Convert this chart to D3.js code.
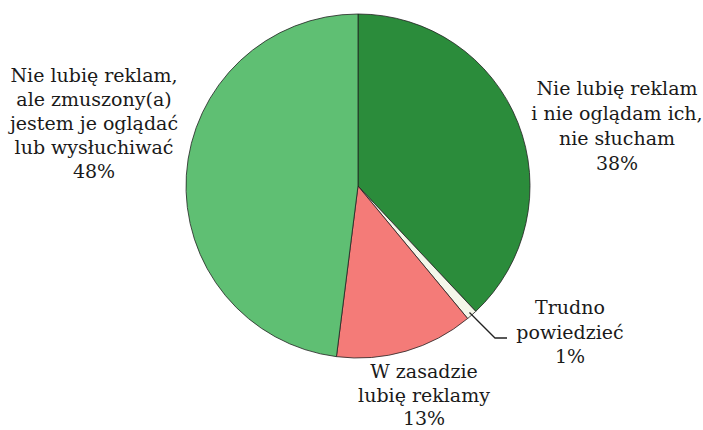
<!DOCTYPE html>
<html>
<head>
<meta charset="utf-8">
<script src="https://cdn.jsdelivr.net/npm/d3@7"></script>
<style>
  html, body { margin: 0; padding: 0; background: #fff; }
  svg text { font-family: "DejaVu Serif", serif; font-size: 19px; fill: #1a1a1a; }
</style>
</head>
<body>
<svg id="chart" width="703" height="430"></svg>
<script>
// Survey answers about advertising (share of respondents, %)
const categories = [
  ["Nie lubię reklam", "i nie oglądam ich,", "nie słucham"],
  ["Trudno", "powiedzieć"],
  ["W zasadzie", "lubię reklamy"],
  ["Nie lubię reklam,", "ale zmuszony(a)", "jestem je oglądać", "lub wysłuchiwać"]
];
const values = [38, 1, 13, 48];
const colors = ["#2b8c3b", "#f4f7ea", "#f47b78", "#5fbf73"];

const width = 703, height = 430;
const cx = 358, cy = 186, radius = 172;

const svg = d3.select("#chart");
const g = svg.append("g").attr("transform", `translate(${cx},${cy})`);

const pie = d3.pie().sort(null).value(d => d);
const arcs = pie(values);
const arc = d3.arc().innerRadius(0).outerRadius(radius);

g.selectAll("path.slice")
  .data(arcs)
  .enter().append("path")
  .attr("class", "slice")
  .attr("d", arc)
  .attr("fill", (d, i) => colors[i])
  .attr("stroke", "#222")
  .attr("stroke-width", 0.8)
  .attr("stroke-linejoin", "round");

// Label anchor points (relative to centre) and line spacing
const labelPos = [
  { x: 259, y: -91, lh: 25 },
  { x: 212, y: 128, lh: 24.5 },
  { x: 66, y: 192, lh: 23.5 },
  { x: -264, y: -104, lh: 24 }
];

arcs.forEach((d, i) => {
  const lines = categories[i].concat([d.data + "%"]);
  const t = g.append("text")
    .attr("text-anchor", "middle")
    .attr("x", labelPos[i].x)
    .attr("y", labelPos[i].y);
  lines.forEach((ln, k) => {
    t.append("tspan")
      .attr("x", labelPos[i].x)
      .attr("dy", k === 0 ? 0 : labelPos[i].lh)
      .text(ln);
  });
});

// Leader line for the small slice
const small = arcs[1];
const mid = (small.startAngle + small.endAngle) / 2;
const p0 = [Math.sin(mid) * radius * 0.98, -Math.cos(mid) * radius * 0.98];
const p1 = [137, 152];
const p2 = [149, 152];
g.append("path")
  .attr("d", d3.line()([p0, p1, p2]))
  .attr("fill", "none")
  .attr("stroke", "#222")
  .attr("stroke-width", 1.3);
</script>
</body>
</html>
